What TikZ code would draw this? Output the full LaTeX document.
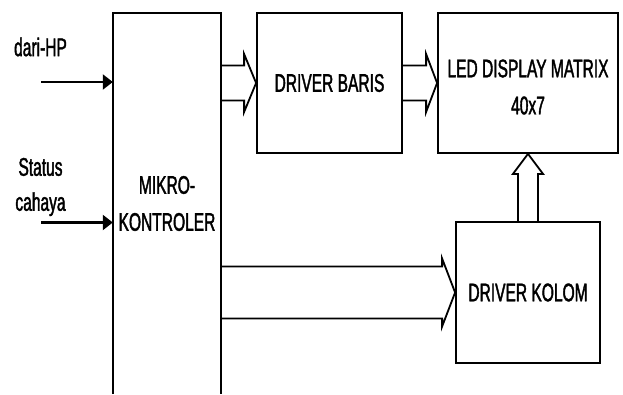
\documentclass[tikz,border=0pt]{standalone}
\usepackage{fontspec}
\setmainfont{Liberation Sans}[FakeStretch=0.61,FakeBold=1.6]
\usetikzlibrary{arrows.meta,calc}
\tikzset{
  blk/.style={draw, line width=1.8pt, inner sep=0pt, align=center},
  hollow/.style={draw, line width=1.8pt, line join=miter},
  inarrow/.style={line width=2.2pt, -{Triangle[length=10pt,width=15pt]}},
  lbl/.style={inner sep=0pt, align=center},
}
\begin{document}
\begin{tikzpicture}[x=1pt,y=-1pt,font=\fontsize{25.5}{37}\selectfont]
\useasboundingbox (0,0) rectangle (623,394);
% boxes
\node[lbl, minimum width=108pt, minimum height=381pt] (mikro) at (167,203.5) {MIKRO-\\KONTROLER};
\draw[line width=1.8pt] (mikro.south west) -- (mikro.north west) -- (mikro.north east) -- (mikro.south east);
\node[blk, minimum width=145pt, minimum height=140pt] (baris) at (329.5,83) {DRIVER BARIS};
\node[blk, minimum width=180pt, minimum height=140pt] (led) at (528,83) {};
\node[lbl] (ledtxt) at ([yshift=-4pt]led.center) {LED DISPLAY MATRIX\\40x7};
\node[blk, minimum width=144pt, minimum height=141pt] (kolom) at (528,292.5) {DRIVER KOLOM};
% input labels and arrows
\node[lbl] (dari) at (40.5,47) {dari-HP};
\node[lbl, font=\fontsize{25.5}{35}\selectfont] (status) at (40.5,187) {Status\\cahaya};
\coordinate (in1) at (41,82);
\coordinate (in2) at (41,222.5);
\draw[inarrow] (in1) -- (in1 -| mikro.west);
\draw[inarrow] (in2) -- (in2 -| mikro.west);
% hollow arrows
\draw[hollow] ([yshift=17.5pt]baris.west -| mikro.east) -- ([xshift=-12pt,yshift=17.5pt]baris.west) -- ([xshift=-12pt,yshift=29pt]baris.west) -- (baris.west) -- ([xshift=-12pt,yshift=-29pt]baris.west) -- ([xshift=-12pt,yshift=-17.5pt]baris.west) -- ([yshift=-17.5pt]baris.west -| mikro.east);
\draw[hollow] ([yshift=17.5pt]led.west -| baris.east) -- ([xshift=-11pt,yshift=17.5pt]led.west) -- ([xshift=-11pt,yshift=29pt]led.west) -- (led.west) -- ([xshift=-11pt,yshift=-29pt]led.west) -- ([xshift=-11pt,yshift=-17.5pt]led.west) -- ([yshift=-17.5pt]led.west -| baris.east);
\draw[hollow] ([yshift=26pt]kolom.west -| mikro.east) -- ([xshift=-13pt,yshift=26pt]kolom.west) -- ([xshift=-13pt,yshift=34pt]kolom.west) -- (kolom.west) -- ([xshift=-13pt,yshift=-34pt]kolom.west) -- ([xshift=-13pt,yshift=-26pt]kolom.west) -- ([yshift=-26pt]kolom.west -| mikro.east);
\draw[hollow] ([xshift=-10pt]kolom.north) -- ([xshift=-10pt,yshift=-20pt]led.south) -- ([xshift=-15pt,yshift=-20pt]led.south) -- (led.south) -- ([xshift=15pt,yshift=-20pt]led.south) -- ([xshift=10pt,yshift=-20pt]led.south) -- ([xshift=10pt]kolom.north);
\end{tikzpicture}
\end{document}
